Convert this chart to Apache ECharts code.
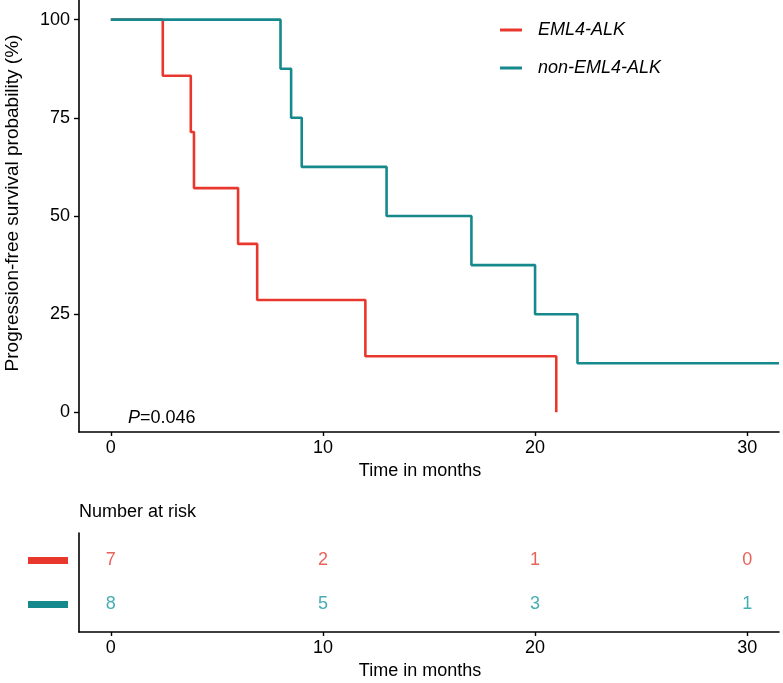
<!DOCTYPE html>
<html>
<head>
<meta charset="utf-8">
<script src="https://cdn.jsdelivr.net/npm/echarts@6/dist/echarts.min.js"></script>
<style>html,body{margin:0;padding:0;background:#fff;}#c{width:783px;height:683px;}</style>
</head>
<body>
<div id="c"></div>
<script>
// ---- data ----
const groups = ['EML4-ALK', 'non-EML4-ALK'];
const emlTimes = [0, 2.45, 3.77, 3.92, 6.0, 6.9, 12.0, 21.0];
const emlSurv  = [100, 85.7, 71.4, 57.1, 42.9, 28.6, 14.3, 0];
const nonTimes = [0, 8.0, 8.5, 9.0, 13.0, 17.0, 20.0, 22.0, 31.5];
const nonSurv  = [100, 87.5, 75, 62.5, 50, 37.5, 25, 12.5, 12.5];
const xTicks = [0, 10, 20, 30];
const yTicks = [0, 25, 50, 75, 100];
const riskTimes = [0, 10, 20, 30];
const riskEml = [7, 2, 1, 0];
const riskNon = [8, 5, 3, 1];
const pText = '0.046';

const RED = '#E8382E';
const TEAL = '#16898C';
const RED_T = '#E3392F';
const TEAL_T = '#179A9F';
const FONT = 'Liberation Sans, Arial, sans-serif';

const zip = (a, b) => a.map((v, i) => [v, b[i]]);

const chart = echarts.init(document.getElementById('c'));
const xAxisBase = {
  type: 'value', min: -1.5, max: 31.5,
  splitLine: { show: false },
  axisLine: { onZero: false, lineStyle: { color: '#000', width: 1.6 } },
  axisTick: { customValues: xTicks, length: 4, lineStyle: { color: '#000', width: 1.4 } },
  axisLabel: { customValues: xTicks, color: '#000', fontSize: 18, fontFamily: FONT, margin: 7 },
  name: 'Time in months', nameLocation: 'middle', nameGap: 30,
  nameTextStyle: { color: '#000', fontSize: 18, fontFamily: FONT, padding: [0, 18, 0, 0] }
};

chart.setOption({
  animation: false,
  backgroundColor: '#fff',
  textStyle: { fontFamily: FONT },
  title: [{
    text: '{i|P}=' + pText,
    left: 123, top: 404,
    textStyle: {
      fontSize: 18, fontWeight: 'normal', color: '#000', fontFamily: FONT,
      rich: { i: { fontStyle: 'italic', fontSize: 18, color: '#000', fontFamily: FONT } }
    }
  }],
  legend: {
    data: groups, orient: 'vertical', left: 495, top: 16,
    icon: 'rect', itemWidth: 22, itemHeight: 3, itemGap: 20,
    textStyle: { fontSize: 18, fontStyle: 'italic', color: '#000', fontFamily: FONT, padding: [0, 0, 0, 11] }
  },
  grid: [
    { left: 79, right: 4, top: 0, height: 432, containLabel: false, outerBoundsMode: 'none' },
    { left: 79, right: 4, top: 533, height: 99, containLabel: false, outerBoundsMode: 'none' }
  ],
  xAxis: [
    Object.assign({ gridIndex: 0 }, xAxisBase),
    Object.assign({ gridIndex: 1 }, xAxisBase)
  ],
  yAxis: [
    {
      gridIndex: 0, type: 'value', min: -5, max: 105,
      splitLine: { show: false },
      axisLine: { show: true, onZero: false, lineStyle: { color: '#000', width: 1.6 } },
      axisTick: { show: true, customValues: yTicks, length: 5, lineStyle: { color: '#000', width: 1.4 } },
      axisLabel: { customValues: yTicks, color: '#000', fontSize: 18, fontFamily: FONT, margin: 9 },
      name: 'Progression-free survival probability (%)', nameLocation: 'middle', nameGap: 57,
      nameTextStyle: { color: '#000', fontSize: 19, fontFamily: FONT, padding: [0, 0, 0, 26] }
    },
    {
      gridIndex: 1, type: 'value', min: 0.375, max: 2.625,
      splitLine: { show: false },
      axisLine: { show: true, onZero: false, lineStyle: { color: '#000', width: 1.6 } },
      axisTick: { show: false },
      axisLabel: {
        customValues: [1, 2], margin: 11,
        formatter: v => (v === 2 ? '{r| }' : '{t| }'),
        rich: {
          r: { backgroundColor: RED, width: 40, height: 7 },
          t: { backgroundColor: TEAL, width: 40, height: 7 }
        }
      },
      name: 'Number at risk', nameLocation: 'end', nameGap: 12,
      nameTextStyle: { color: '#000', fontSize: 18, fontFamily: FONT, align: 'left' }
    }
  ],
  series: [
    {
      name: groups[0], type: 'line', step: 'end', xAxisIndex: 0, yAxisIndex: 0,
      data: zip(emlTimes, emlSurv), symbol: 'none',
      lineStyle: { color: RED, width: 2.6 }, itemStyle: { color: RED }
    },
    {
      name: groups[1], type: 'line', step: 'end', xAxisIndex: 0, yAxisIndex: 0,
      data: zip(nonTimes, nonSurv), symbol: 'none',
      lineStyle: { color: TEAL, width: 2.6 }, itemStyle: { color: TEAL }
    },
    {
      type: 'scatter', xAxisIndex: 1, yAxisIndex: 1, symbolSize: 1,
      itemStyle: { color: 'rgba(0,0,0,0)' },
      data: riskTimes.map((t, i) => [t, 2, riskEml[i]]),
      label: { show: true, position: 'inside', formatter: p => String(p.value[2]), color: RED_T, fontSize: 18, fontFamily: FONT },
      silent: true
    },
    {
      type: 'scatter', xAxisIndex: 1, yAxisIndex: 1, symbolSize: 1,
      itemStyle: { color: 'rgba(0,0,0,0)' },
      data: riskTimes.map((t, i) => [t, 1, riskNon[i]]),
      label: { show: true, position: 'inside', formatter: p => String(p.value[2]), color: TEAL_T, fontSize: 18, fontFamily: FONT },
      silent: true
    }
  ]
});
</script>
</body>
</html>
